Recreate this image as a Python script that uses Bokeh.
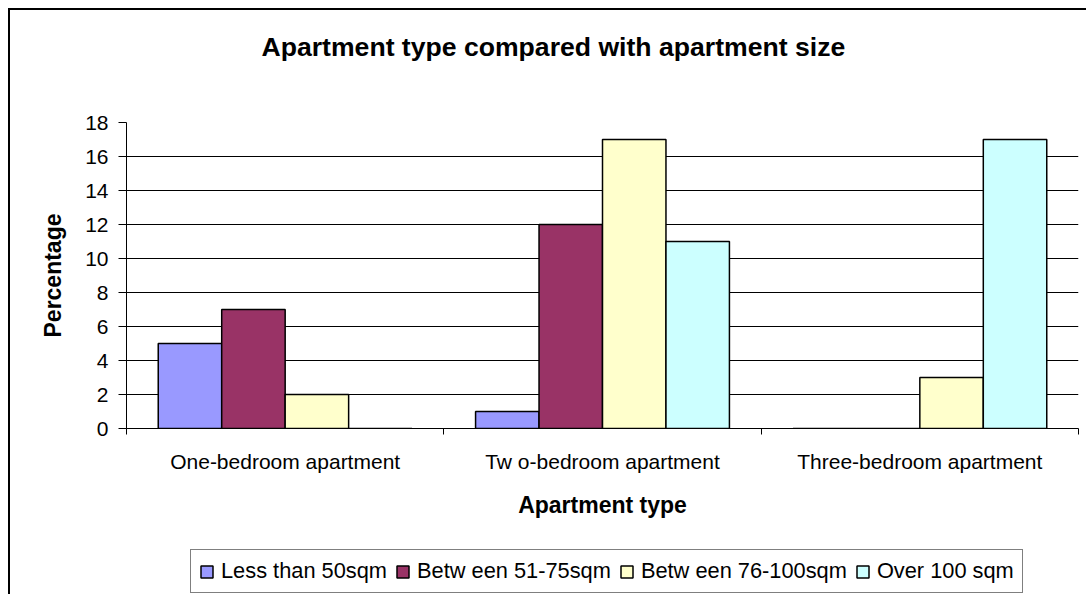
import numpy as np
from bokeh.plotting import figure
from bokeh.layouts import column
from bokeh.models import Range1d, FixedTicker, Legend, LegendItem, Title
from bokeh.embed import file_html
from bokeh.resources import INLINE

categories = ["One-bedroom apartment", "Tw o-bedroom apartment", "Three-bedroom apartment"]
series_names = ["Less than 50sqm", "Betw een 51-75sqm", "Betw een 76-100sqm", "Over 100 sqm"]
less_than_50 = [5, 1, 0]
between_51_75 = [7, 12, 0]
between_76_100 = [2, 17, 3]
over_100 = [0, 11, 17]
y_ticks = [0, 2, 4, 6, 8, 10, 12, 14, 16, 18]
colors = ["#9999FF", "#993366", "#FFFFCC", "#CCFFFF"]
title_text = "Apartment type compared with apartment size"
x_title = "Apartment type"
y_title = "Percentage"

FONT = "Liberation Sans"
series = [less_than_50, between_51_75, between_76_100, over_100]

p = figure(width=1076, height=519, x_range=Range1d(0, len(categories)), y_range=Range1d(0, 18),
           output_backend="svg", toolbar_location=None,
           min_border_left=116, min_border_right=8, min_border_top=112, min_border_bottom=101)
p.title_location = None
p.outline_line_color = None
p.background_fill_color = "white"
p.border_fill_color = "white"

n = len(series)
bw = 0.8 / n
bar_x = []
for j, (vals, col) in enumerate(zip(series, colors)):
    xs = [i + 0.1 + bw * (j + 0.5) for i in range(len(categories))]
    bar_x.append(xs)
    p.vbar(x=xs, top=vals, width=bw, bottom=0, fill_color=col, line_color="black", line_width=1.5)

# x axis
p.xaxis.ticker = FixedTicker(ticks=[i + 0.5 for i in range(len(categories))],
                             minor_ticks=list(range(len(categories) + 1)))
p.xaxis.major_label_overrides = {i + 0.5: c for i, c in enumerate(categories)}
p.xaxis.major_tick_out = 0
p.xaxis.major_tick_in = 0
p.xaxis.minor_tick_out = 6
p.xaxis.minor_tick_in = 0
p.xaxis.minor_tick_line_color = "black"
p.xaxis.axis_line_color = "black"
p.xaxis.major_label_text_font = FONT
p.xaxis.major_label_text_font_size = "21px"
p.xaxis.major_label_text_color = "black"
p.xaxis.major_label_standoff = 15
p.xaxis.axis_label = x_title
p.xaxis.axis_label_text_font = FONT
p.xaxis.axis_label_text_font_size = "23px"
p.xaxis.axis_label_text_font_style = "bold"
p.xaxis.axis_label_text_color = "black"
p.xaxis.axis_label_standoff = 16

# y axis
p.yaxis.ticker = FixedTicker(ticks=y_ticks, minor_ticks=[])
p.yaxis.major_tick_out = 8
p.yaxis.major_tick_in = 0
p.yaxis.major_tick_line_color = "black"
p.yaxis.axis_line_color = "black"
p.yaxis.major_label_text_font = FONT
p.yaxis.major_label_text_font_size = "21px"
p.yaxis.major_label_text_color = "black"
p.yaxis.major_label_standoff = 10
p.yaxis.axis_label = y_title
p.yaxis.axis_label_text_font = FONT
p.yaxis.axis_label_text_font_size = "23px"
p.yaxis.axis_label_text_font_style = "bold"
p.yaxis.axis_label_text_color = "black"
p.yaxis.axis_label_standoff = 16

p.xgrid.grid_line_color = None
p.ygrid.ticker = FixedTicker(ticks=y_ticks)
p.ygrid.grid_line_color = "black"
p.ygrid.grid_line_width = 1

# above: spacer (inner) then title (outer)
p.add_layout(Title(text=" ", text_font_size="2px", standoff=52), "above")
p.add_layout(Title(text=title_text, align="left", offset=135, standoff=10,
                   text_font=FONT, text_font_size="26.6px", text_font_style="bold",
                   text_color="black"), "above")

# legend strip below the chart
lf = figure(width=1076, height=65, x_range=Range1d(0, len(categories)), y_range=Range1d(0, 18),
            x_axis_type=None, y_axis_type=None,
            output_backend="svg", toolbar_location=None,
            min_border_left=0, min_border_right=0, min_border_top=0, min_border_bottom=0)
lf.title_location = None
lf.grid.visible = False
lf.outline_line_color = None
lf.background_fill_color = "white"
lf.border_fill_color = "white"
items = []
for xs, vals, name, col in zip(bar_x, series, series_names, colors):
    r = lf.vbar(x=xs, top=vals, width=bw, bottom=0, fill_color=col, line_color="black",
                line_width=1.5, visible=False)
    items.append(LegendItem(label=name, renderers=[r]))
legend = Legend(items=items, orientation="horizontal", location=(64, 1),
                label_text_font=FONT, label_text_font_size="21.8px", label_text_color="black",
                glyph_width=15, glyph_height=15, label_standoff=7, spacing=8, padding=8,
                border_line_color="black", border_line_width=1, background_fill_alpha=1.0,
                inactive_fill_alpha=0.0, click_policy="none", margin=0)
lf.add_layout(legend, "center")

layout = column(p, lf, spacing=0,
                styles={"border-left": "2px solid #000", "border-top": "2px solid #000",
                        "margin-left": "8px", "margin-top": "8px"})

open("out.html", "w").write(file_html(layout, INLINE))
